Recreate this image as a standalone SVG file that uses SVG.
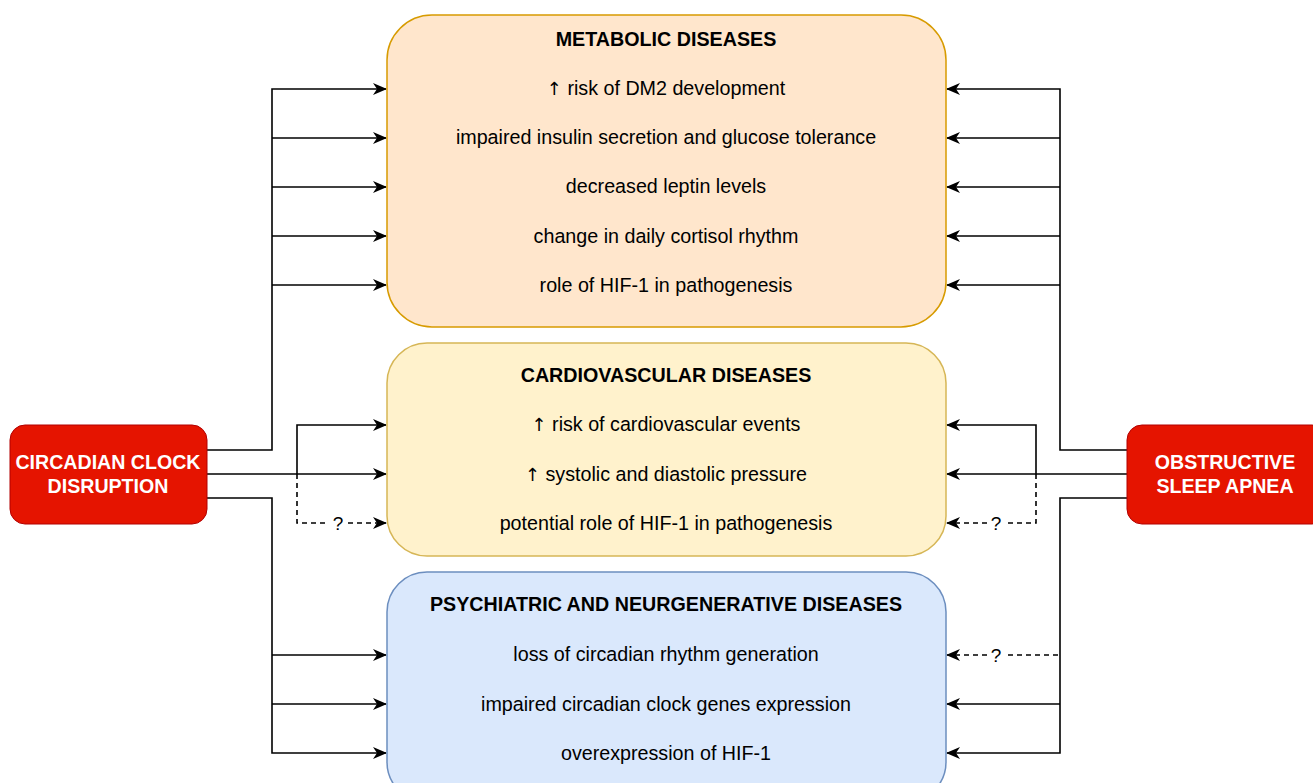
<svg xmlns="http://www.w3.org/2000/svg" width="1313" height="783" viewBox="0 0 1313 783">
<style>
.t{font-family:"Liberation Sans",Arial,sans-serif;font-size:19.7px;fill:#000;text-anchor:middle}
.b{font-weight:bold}
.u{font-family:"DejaVu Sans",sans-serif;font-size:18px;fill:#000}
.w{font-family:"Liberation Sans",Arial,sans-serif;font-size:19.6px;font-weight:bold;fill:#fff;text-anchor:middle}
.c{fill:none;stroke:#000;stroke-width:1.6}
.d{fill:none;stroke:#000;stroke-width:1.6;stroke-dasharray:5 4}
.q{font-family:"Liberation Sans",Arial,sans-serif;font-size:19px;fill:#000;text-anchor:middle}
</style>
<defs>
<marker id="a" viewBox="0 0 14 12" refX="13" refY="6" markerWidth="14" markerHeight="12" markerUnits="userSpaceOnUse" orient="auto">
<path d="M0,0 L14,6 L0,12 L4,6 Z" fill="#000"/>
</marker>
</defs>
<rect width="1313" height="783" fill="#fff"/>
<g id="connectors">
<path class="c" d="M207,450 H272 V89 H386" marker-end="url(#a)"/>
<path class="c" d="M272,138 H386" marker-end="url(#a)"/>
<path class="c" d="M272,187 H386" marker-end="url(#a)"/>
<path class="c" d="M272,236 H386" marker-end="url(#a)"/>
<path class="c" d="M272,285 H386" marker-end="url(#a)"/>
<path class="c" d="M207,474 H386" marker-end="url(#a)"/>
<path class="c" d="M297,474 V425 H386" marker-end="url(#a)"/>
<path class="d" d="M297,474 V523 H329"/>
<path class="d" d="M348,523 H386" marker-end="url(#a)"/>
<text class="q" x="338" y="530">?</text>
<path class="c" d="M207,498 H272 V753 H386" marker-end="url(#a)"/>
<path class="c" d="M272,655 H386" marker-end="url(#a)"/>
<path class="c" d="M272,704 H386" marker-end="url(#a)"/>
<path class="c" d="M1127,450 H1060 V89 H947" marker-end="url(#a)"/>
<path class="c" d="M1060,138 H947" marker-end="url(#a)"/>
<path class="c" d="M1060,187 H947" marker-end="url(#a)"/>
<path class="c" d="M1060,236 H947" marker-end="url(#a)"/>
<path class="c" d="M1060,285 H947" marker-end="url(#a)"/>
<path class="c" d="M1127,474 H947" marker-end="url(#a)"/>
<path class="c" d="M1036,474 V425 H947" marker-end="url(#a)"/>
<path class="d" d="M1036,474 V523 H1005"/>
<path class="d" d="M987,523 H947" marker-end="url(#a)"/>
<text class="q" x="996" y="530">?</text>
<path class="c" d="M1127,498 H1060 V753 H947" marker-end="url(#a)"/>
<path class="c" d="M1060,704 H947" marker-end="url(#a)"/>
<path class="d" d="M1058,655 H1005"/>
<path class="d" d="M987,655 H947" marker-end="url(#a)"/>
<text class="q" x="996" y="662">?</text>
</g>
<g id="metabolic">
<rect x="387" y="15" width="559" height="312" rx="45" fill="#ffe6cc" stroke="#d79b00" stroke-width="1.5"/>
<text class="t b" x="666" y="46">METABOLIC DISEASES</text>
<text class="t" x="666" y="95"><tspan class="u">↑</tspan> risk of DM2 development</text>
<text class="t" x="666" y="144">impaired insulin secretion and glucose tolerance</text>
<text class="t" x="666" y="193">decreased leptin levels</text>
<text class="t" x="666" y="243">change in daily cortisol rhythm</text>
<text class="t" x="666" y="292">role of HIF-1 in pathogenesis</text>
</g>
<g id="cardiovascular">
<rect x="387" y="343" width="559" height="213" rx="40" fill="#fff2cc" stroke="#d6b656" stroke-width="1.5"/>
<text class="t b" x="666" y="382">CARDIOVASCULAR DISEASES</text>
<text class="t" x="666" y="431"><tspan class="u">↑</tspan> risk of cardiovascular events</text>
<text class="t" x="666" y="481"><tspan class="u">↑</tspan> systolic and diastolic pressure</text>
<text class="t" x="666" y="530">potential role of HIF-1 in pathogenesis</text>
</g>
<g id="psychiatric">
<rect x="387" y="572" width="559" height="230" rx="40" fill="#dae8fc" stroke="#6c8ebf" stroke-width="1.5"/>
<text class="t b" x="666" y="611">PSYCHIATRIC AND NEURGENERATIVE DISEASES</text>
<text class="t" x="666" y="661">loss of circadian rhythm generation</text>
<text class="t" x="666" y="711">impaired circadian clock genes expression</text>
<text class="t" x="666" y="760">overexpression of HIF-1</text>
</g>
<g id="circadian">
<rect x="10" y="425" width="197" height="99" rx="15" fill="#e51400" stroke="#b20000" stroke-width="1"/>
<text class="w" x="108" y="469">CIRCADIAN CLOCK</text>
<text class="w" x="108" y="493">DISRUPTION</text>
</g>
<g id="osa">
<rect x="1127" y="425" width="200" height="99" rx="15" fill="#e51400" stroke="#b20000" stroke-width="1"/>
<text class="w" x="1225" y="469">OBSTRUCTIVE</text>
<text class="w" x="1225" y="493">SLEEP APNEA</text>
</g>
</svg>
